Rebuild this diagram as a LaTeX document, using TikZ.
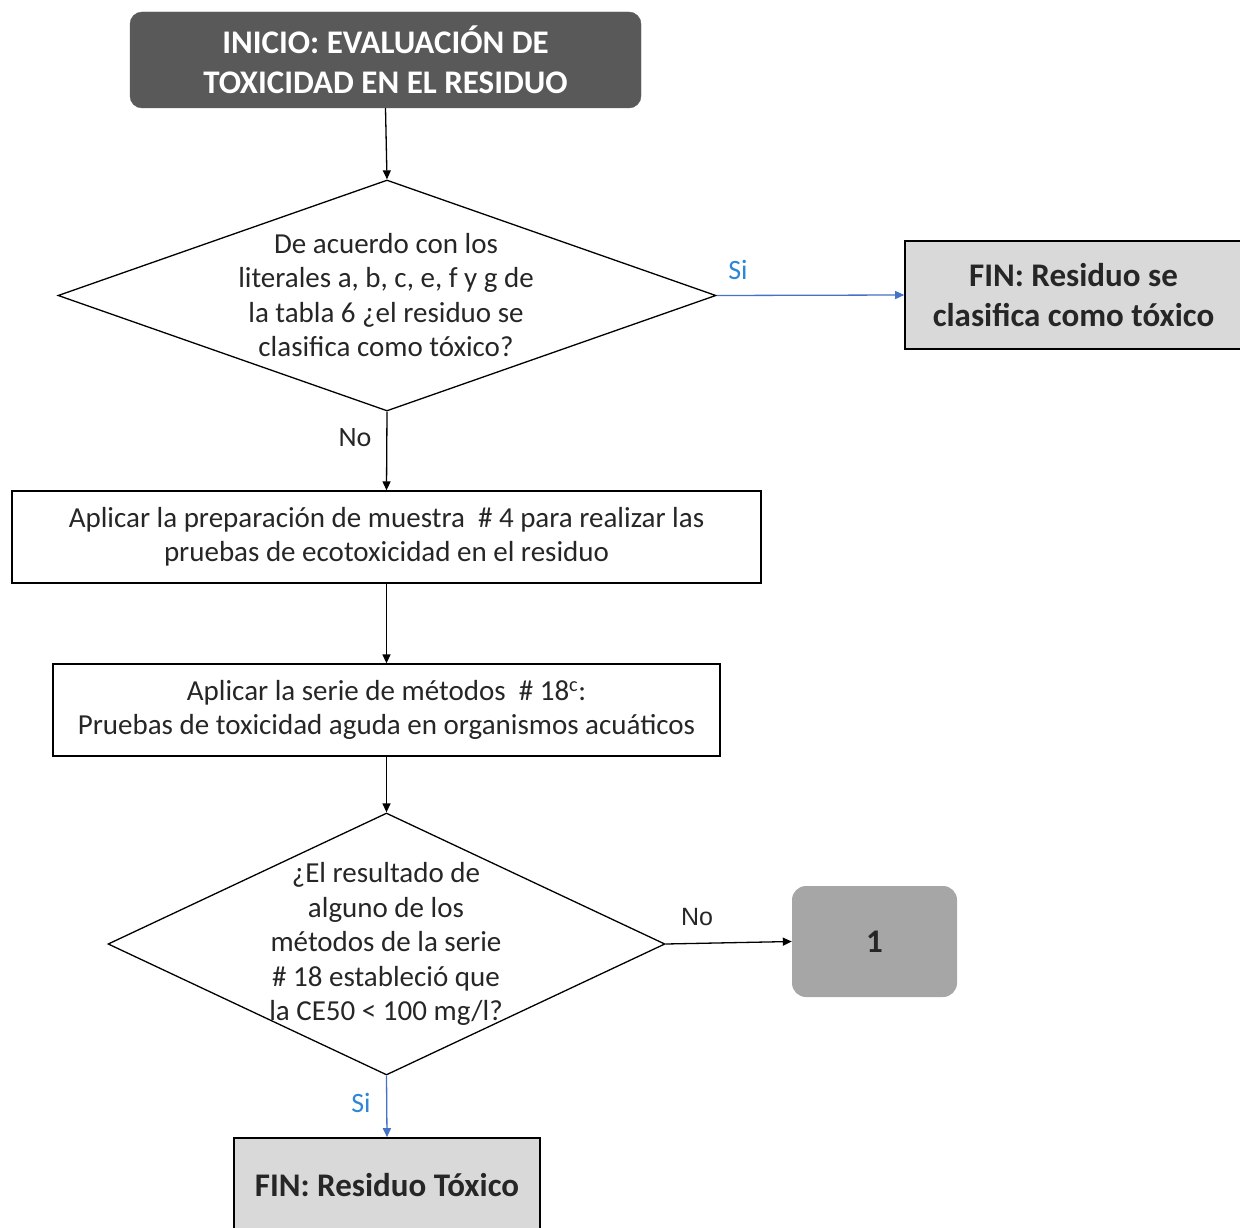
\documentclass[tikz,border=0pt]{standalone}
\usepackage{fontspec}
\setmainfont{Carlito}
\newfontfamily\arialf{Liberation Sans}
\usetikzlibrary{shapes.geometric,arrows.meta}
\definecolor{darkbox}{HTML}{595959}
\definecolor{lightbox}{HTML}{D9D9D9}
\definecolor{midbox}{HTML}{A6A6A6}
\definecolor{txt}{HTML}{262626}
\definecolor{bluel}{HTML}{4472C4}
\definecolor{bluet}{HTML}{2E86D6}
\tikzset{
  normaltext/.style={font=\fontsize{29}{34.5}\selectfont, text=txt, align=center, inner sep=0pt},
  boldtext/.style={font=\bfseries\fontsize{33}{40}\selectfont, align=center, inner sep=0pt},
  startbox/.style={rectangle, rounded corners=12pt, fill=darkbox, draw=darkbox, text=white, boldtext, minimum width=511pt, minimum height=96pt},
  procbox/.style={rectangle, draw=black, line width=1.3pt, normaltext},
  endbox/.style={rectangle, draw=black, line width=1.6pt, fill=lightbox, boldtext, text=txt},
  decision/.style={diamond, draw=black, line width=1.3pt, inner sep=0pt},
  connbox/.style={rectangle, rounded corners=14pt, fill=midbox, boldtext, text=txt, minimum width=165pt, minimum height=111pt},
  arr/.style={draw=black, line width=1.3pt, -{Triangle[length=9pt,width=8pt]}},
  bluearr/.style={draw=bluel, line width=1.3pt, -{Triangle[length=9pt,width=8pt]}},
  bluelabel/.style={font=\fontsize{28}{32}\selectfont, text=bluet, inner sep=0pt},
  blacklabel/.style={font=\fontsize{28}{32}\selectfont, text=txt, inner sep=0pt}
}
\begin{document}
\begin{tikzpicture}[x=1pt,y=-1pt]
\useasboundingbox (0,0) rectangle (1240,1228);
% nodes
\node[startbox] (start) at (385.5,60) {INICIO: EVALUACIÓN DE\\TOXICIDAD EN EL RESIDUO};
\node[decision, minimum width=658pt, minimum height=231pt] (d1) at (387,295.5) {};
\node[normaltext] (d1t) at (386,295) {De acuerdo con los\\literales a, b, c, e, f y g de\\la tabla 6 ¿el residuo se\\clasifica como tóxico?};
\node[endbox, minimum width=337pt, minimum height=108pt] (fin1) at (1073.5,295) {FIN: Residuo se\\clasifica como tóxico};
\node[procbox, minimum width=749pt, minimum height=92pt] (box2) at (386.5,537) {Aplicar la preparación de muestra \ \# 4 para realizar las\\pruebas de ecotoxicidad en el residuo};
\node[procbox, minimum width=667pt, minimum height=92pt] (box3) at (386.5,710) {Aplicar la serie de métodos \ \# 18\textsuperscript{c}:\\Pruebas de toxicidad aguda en organismos acuáticos};
\node[decision, minimum width=557pt, minimum height=262pt] (d2) at (386.5,944) {};
\node[normaltext] (d2t) at (386,944) {¿El resultado de\\alguno de los\\métodos de la serie\\\# 18 estableció que\\la CE50 < 100 mg/l?};
\node[connbox] (one) at (874.5,941.5) {1};
\node[endbox, minimum width=306pt, minimum height=94pt] (fin2) at (387,1185) {FIN: Residuo Tóxico};
% connectors
\draw[arr] (start.south) -- (d1.north);
\draw[bluearr] (d1.east) -- (fin1.west);
\draw[arr] (d1.south) -- (box2.north);
\draw[arr] (box2.south) -- (box3.north);
\draw[arr] (box3.south) -- (d2.north);
\draw[arr] (d2.east) -- (one.west);
\draw[bluearr] (d2.south) -- (fin2.north);
% labels
\node[bluelabel] (si1) at (738,270) {Si};
\node[blacklabel] (no1) at (355,438) {No};
\node[blacklabel, font=\arialf\fontsize{25}{29}\selectfont] (no2) at (697,917) {No};
\node[bluelabel] (si2) at (361,1103) {Si};
\end{tikzpicture}
\end{document}
